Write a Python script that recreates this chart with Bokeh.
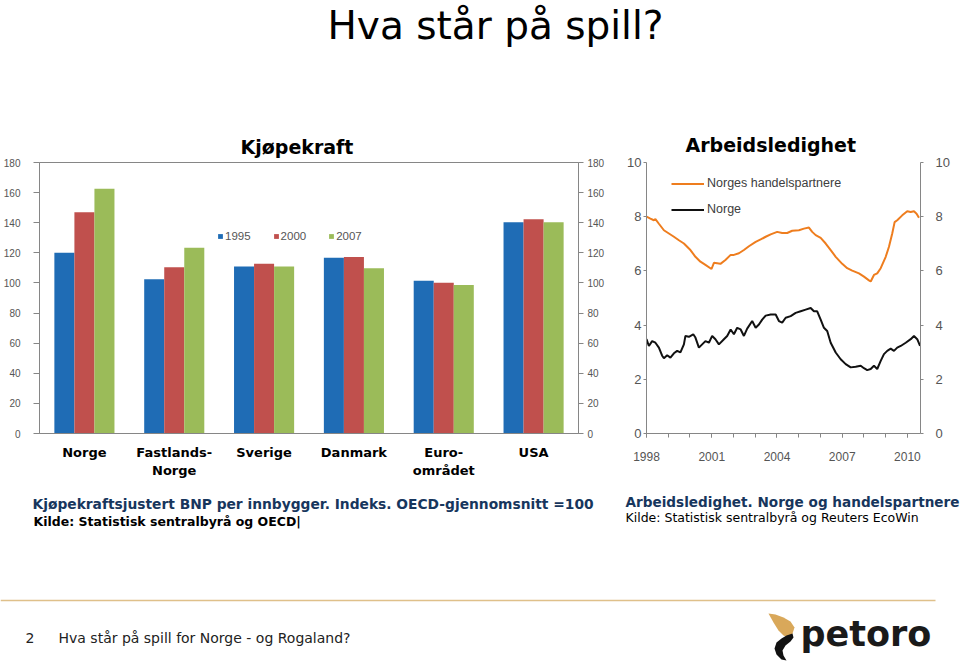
from bokeh.plotting import figure
from bokeh.layouts import column, row
from bokeh.models import (Range1d, FactorRange, LinearAxis, SingleIntervalTicker,
                          FixedTicker, Legend, LegendItem, ColumnDataSource)
from bokeh.transform import dodge
from bokeh.core.properties import value
from bokeh.embed import file_html
from bokeh.resources import INLINE

# ---------------- data ----------------
countries = ["Norge", "Fastlands-\nNorge", "Sverige", "Danmark", "Euro-\nområdet", "USA"]
bar_years = ["1995", "2000", "2007"]
ppp_1995 = [120.0, 102.5, 111.0, 116.7, 101.5, 140.3]
ppp_2000 = [147.0, 110.5, 112.8, 117.2, 100.2, 142.3]
ppp_2007 = [162.5, 123.3, 111.0, 109.8, 98.6, 140.3]
bar_colors = ["#1f6cb5", "#c0504d", "#9bbb59"]

partners_t = [1998.00, 1998.18, 1998.34, 1998.41, 1998.57, 1998.80, 1999.03, 1999.26, 1999.49, 1999.72,
              2000.02, 2000.25, 2000.48, 2000.71, 2000.99, 2001.10, 2001.25, 2001.40, 2001.63, 2001.87,
              2002.02, 2002.25, 2002.48, 2002.71, 2003.02, 2003.25, 2003.48, 2003.71, 2004.01, 2004.24,
              2004.47, 2004.70, 2005.01, 2005.24, 2005.47, 2005.62, 2005.78, 2006.01, 2006.24, 2006.47,
              2006.70, 2007.00, 2007.23, 2007.46, 2007.77, 2008.00, 2008.23, 2008.31, 2008.46, 2008.61,
              2008.77, 2009.00, 2009.15, 2009.30, 2009.41, 2009.53, 2009.76, 2009.99, 2010.15, 2010.30,
              2010.42, 2010.53]
partners_u = [8.0, 7.93, 7.87, 7.91, 7.74, 7.5, 7.38, 7.26, 7.13, 7.01,
              6.77, 6.52, 6.34, 6.22, 6.07, 6.3, 6.28, 6.26, 6.4, 6.59,
              6.59, 6.65, 6.77, 6.91, 7.07, 7.16, 7.26, 7.35, 7.44, 7.40,
              7.40, 7.48, 7.5, 7.56, 7.6, 7.44, 7.32, 7.22, 7.01, 6.77,
              6.52, 6.26, 6.1, 6.01, 5.91, 5.79, 5.65, 5.61, 5.85, 5.91,
              6.1, 6.52, 6.89, 7.38, 7.8, 7.87, 8.05, 8.2, 8.17, 8.2,
              8.11, 7.96]

norway_t = [1998.00, 1998.11, 1998.26, 1998.41, 1998.57, 1998.72, 1998.80, 1998.95, 1999.10, 1999.26,
            1999.41, 1999.56, 1999.72, 1999.79, 1999.95, 2000.15, 2000.25, 2000.41, 2000.56, 2000.71,
            2000.87, 2001.02, 2001.17, 2001.33, 2001.56, 2001.71, 2001.87, 2002.02, 2002.17, 2002.33,
            2002.48, 2002.63, 2002.86, 2003.02, 2003.17, 2003.32, 2003.48, 2003.71, 2003.94, 2004.09,
            2004.24, 2004.40, 2004.63, 2004.86, 2005.09, 2005.32, 2005.55, 2005.70, 2005.85, 2006.01,
            2006.16, 2006.31, 2006.47, 2006.70, 2006.93, 2007.16, 2007.39, 2007.62, 2007.85, 2008.00,
            2008.15, 2008.31, 2008.46, 2008.61, 2008.77, 2008.92, 2009.07, 2009.23, 2009.38, 2009.53,
            2009.69, 2009.92, 2010.15, 2010.30, 2010.45, 2010.58]
norway_u = [3.48, 3.23, 3.41, 3.35, 3.17, 2.87, 2.78, 2.89, 2.80, 2.96,
            3.05, 2.99, 3.29, 3.6, 3.57, 3.66, 3.54, 3.17, 3.29, 3.41,
            3.35, 3.6, 3.48, 3.29, 3.48, 3.6, 3.84, 3.66, 3.9, 3.84,
            3.6, 3.87, 4.15, 3.9, 4.02, 4.2, 4.35, 4.39, 4.39, 4.15,
            4.09, 4.27, 4.33, 4.45, 4.51, 4.57, 4.63, 4.51, 4.51, 4.2,
            3.9, 3.78, 3.35, 2.99, 2.74, 2.56, 2.44, 2.46, 2.5, 2.41,
            2.34, 2.38, 2.5, 2.38, 2.68, 2.93, 3.05, 3.13, 3.05, 3.17,
            3.23, 3.35, 3.48, 3.6, 3.48, 3.23]

year_ticks = [1998, 2001, 2004, 2007, 2010]
year_minor = list(range(1998, 2011))

AXIS_GREY = "#868686"
LABEL_GREY = "#555555"
NAVY = "#17365d"
SANS = value("DejaVu Sans")


def blank_canvas(w, h, xr, yr):
    p = figure(width=w, height=h, x_range=Range1d(*xr), y_range=Range1d(*yr),
               toolbar_location=None, output_backend="svg",
               x_axis_location=None, y_axis_location=None,
               min_border=0, outline_line_color=None)
    p.grid.visible = False
    return p


# ---------------- header ----------------
HEAD_H = 118
ROW_H = 370
head = blank_canvas(960, HEAD_H, (0, 960), (HEAD_H, 0))
head.text(x=[495], y=[25], text=["Hva står på spill?"], text_align="center",
          text_baseline="alphabetic", text_font=SANS, text_font_size="39px", text_color="#000000")

# ---------------- bar chart ----------------
src = ColumnDataSource(dict(country=countries, v1995=ppp_1995, v2000=ppp_2000, v2007=ppp_2007))
bars = figure(width=612, height=ROW_H, x_range=FactorRange(factors=countries), y_range=Range1d(0, 180),
              toolbar_location=None, output_backend="svg", title="Kjøpekraft",
              min_border_left=39, min_border_right=34, min_border_top=40, min_border_bottom=55,
              outline_line_color=AXIS_GREY)
bars.title.text_font = "DejaVu Sans"
bars.title.text_font_style = "bold"
bars.title.text_font_size = "19px"
bars.title.text_color = "#000000"
bars.title.align = "left"
bars.title.offset = 201
bars.title.standoff = 10
bars.grid.visible = False

bw = 0.223
renderers = []
for off, col, c in zip([-bw, 0.0, bw], ["v1995", "v2000", "v2007"], bar_colors):
    r = bars.vbar(x=dodge("country", off, range=bars.x_range), top=col, width=bw, source=src,
                  fill_color=c, line_color=None)
    renderers.append(r)

bars.xaxis.major_tick_line_color = None
bars.xaxis.minor_tick_line_color = None
bars.xaxis.axis_line_color = AXIS_GREY
bars.xaxis.major_label_standoff = 5
bars.xaxis.major_label_text_font = "DejaVu Sans"
bars.xaxis.major_label_text_font_style = "bold"
bars.xaxis.major_label_text_font_size = "13px"
bars.xaxis.major_label_text_color = "#000000"

bars.yaxis.ticker = SingleIntervalTicker(interval=20, num_minor_ticks=0)
right_bar_axis = LinearAxis(ticker=SingleIntervalTicker(interval=20, num_minor_ticks=0))
bars.add_layout(right_bar_axis, "right")
for ax, tout, so in [(bars.yaxis[0], 6, 13), (right_bar_axis, 5, 4)]:
    ax.axis_line_color = AXIS_GREY
    ax.major_tick_line_color = AXIS_GREY
    ax.major_tick_out = tout
    ax.major_tick_in = 0
    ax.minor_tick_line_color = None
    ax.major_label_standoff = so
    ax.major_label_text_font = "Liberation Sans"
    ax.major_label_text_font_size = "10px"
    ax.major_label_text_color = LABEL_GREY

bar_legend = Legend(items=[LegendItem(label=y, renderers=[r]) for y, r in zip(bar_years, renderers)],
                    orientation="horizontal", location=(178, 191),
                    glyph_width=6, glyph_height=6, label_standoff=2, spacing=22,
                    padding=0, margin=0, border_line_color=None, background_fill_alpha=0,
                    label_height=12, label_text_font="Liberation Sans",
                    label_text_font_size="11.5px", label_text_color=LABEL_GREY)
bars.add_layout(bar_legend)

# ---------------- line chart ----------------
lines = figure(width=348, height=ROW_H, x_range=Range1d(1998.0, 2010.6), y_range=Range1d(0, 10),
               toolbar_location=None, output_backend="svg", title="Arbeidsledighet",
               min_border_left=34, min_border_right=40, min_border_top=44, min_border_bottom=53,
               outline_line_color=None)
lines.title.text_font = "DejaVu Sans"
lines.title.text_font_style = "bold"
lines.title.text_font_size = "19px"
lines.title.text_color = "#000000"
lines.title.align = "left"
lines.title.offset = 39
lines.title.standoff = 14
lines.grid.visible = False

lines.line(partners_t, partners_u, line_color="#ee7d1e", line_width=2, legend_label="Norges handelspartnere")
lines.line(norway_t, norway_u, line_color="#111111", line_width=2, legend_label="Norge")

lines.xaxis.ticker = FixedTicker(ticks=year_ticks, minor_ticks=year_minor)
lines.xaxis.axis_line_color = AXIS_GREY
lines.xaxis.major_tick_line_color = AXIS_GREY
lines.xaxis.minor_tick_line_color = AXIS_GREY
lines.xaxis.major_tick_out = 4
lines.xaxis.major_tick_in = 0
lines.xaxis.minor_tick_out = 4
lines.xaxis.minor_tick_in = 0
lines.xaxis.major_label_standoff = 14
lines.xaxis.major_label_text_font = "Liberation Sans"
lines.xaxis.major_label_text_font_size = "12px"
lines.xaxis.major_label_text_color = LABEL_GREY

lines.yaxis.ticker = SingleIntervalTicker(interval=2, num_minor_ticks=0)
right_line_axis = LinearAxis(ticker=SingleIntervalTicker(interval=2, num_minor_ticks=0))
lines.add_layout(right_line_axis, "right")
for ax, so in [(lines.yaxis[0], 2), (right_line_axis, 12)]:
    ax.axis_line_color = AXIS_GREY
    ax.major_tick_line_color = AXIS_GREY
    ax.major_tick_out = 3
    ax.major_tick_in = 0
    ax.minor_tick_line_color = None
    ax.major_label_standoff = so
    ax.major_label_text_font = "Liberation Sans"
    ax.major_label_text_font_size = "13px"
    ax.major_label_text_color = LABEL_GREY

lg = lines.legend[0]
lg.location = (25, 217)
lg.glyph_width = 33
lg.glyph_height = 13
lg.label_height = 13
lg.spacing = 12
lg.label_standoff = 3
lg.padding = 0
lg.margin = 0
lg.border_line_color = None
lg.background_fill_alpha = 0
lg.label_text_font = "Liberation Sans"
lg.label_text_font_size = "12.5px"
lg.label_text_color = "#404040"

# ---------------- footer / captions ----------------
FOOT_TOP = HEAD_H + ROW_H
foot = blank_canvas(960, 663 - FOOT_TOP, (0, 960), (663, FOOT_TOP))
foot.text(x=[32], y=[503], text=["Kjøpekraftsjustert BNP per innbygger. Indeks. OECD-gjennomsnitt =100"],
          text_baseline="alphabetic", text_font=SANS, text_font_style="bold",
          text_font_size="13.8px", text_color=NAVY)
foot.text(x=[625], y=[501], text=["Arbeidsledighet. Norge og handelspartnere"],
          text_baseline="alphabetic", text_font=SANS, text_font_style="bold",
          text_font_size="13.6px", text_color=NAVY)
foot.text(x=[33], y=[521], text=["Kilde: Statistisk sentralbyrå og OECD|"],
          text_baseline="alphabetic", text_font=SANS, text_font_style="bold",
          text_font_size="12.5px", text_color="#000000")
foot.text(x=[625], y=[517], text=["Kilde: Statistisk sentralbyrå og Reuters EcoWin"],
          text_baseline="alphabetic", text_font=SANS, text_font_size="12.5px", text_color="#000000")
foot.segment(x0=[0], y0=[600], x1=[935], y1=[600], line_color="#dfc08a", line_width=1.5)
foot.text(x=[25, 58], y=[637, 637], text=["2", "Hva står på spill for Norge - og Rogaland?"],
          text_baseline="alphabetic", text_font=SANS, text_font_size="14px", text_color="#222222")
# logo
foot.patch(x=[768, 775, 783, 790, 794, 792, 788, 783, 778, 773],
           y=[613, 614, 617, 621, 627, 633, 637, 635, 630, 622],
           fill_color="#d9a85a", line_color=None)
foot.patch(x=[786, 792, 793, 790, 785, 782, 783, 786, 781, 776, 774, 776, 781],
           y=[635, 633, 637, 641, 645, 650, 655, 660, 659, 654, 648, 642, 638],
           fill_color="#111111", line_color=None)
foot.text(x=[800], y=[633], text=["petoro"], text_baseline="alphabetic", text_font=SANS,
          text_font_style="bold", text_font_size="35px", text_color="#1a1a1a")

layout = column(head, row(bars, lines), foot)
open("out.html", "w").write(file_html(layout, INLINE))
